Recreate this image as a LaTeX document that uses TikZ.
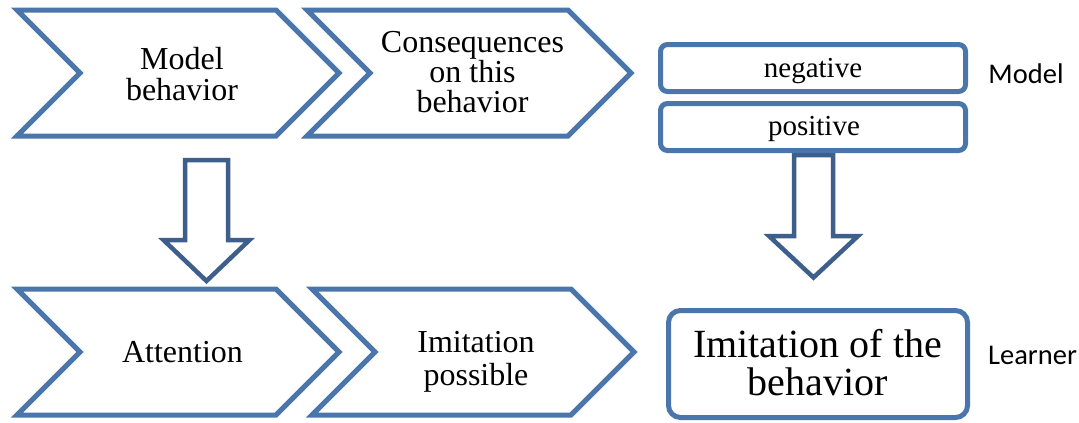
\documentclass[tikz,border=0pt]{standalone}
\usepackage{fontspec}
\setmainfont{Liberation Serif}
\newfontfamily\labelfont{Carlito}
\definecolor{chevblue}{RGB}{74,118,172}
\definecolor{arrowblue}{RGB}{62,95,140}
\begin{document}
\begin{tikzpicture}[x=1pt,y=-1pt,
  chev/.style={draw=chevblue,line width=5pt,line join=miter,fill=white},
  box/.style={draw=chevblue,line width=5pt,fill=white,inner sep=0pt},
  blockarrow/.style={draw=arrowblue,line width=4.5pt,fill=white,line join=miter},
  txt/.style={align=center,inner sep=0pt,font=\fontsize{32}{31}\selectfont},
  small/.style={inner sep=0pt,font=\fontsize{29}{29}\selectfont},
  big/.style={align=center,inner sep=0pt,font=\fontsize{40}{38}\selectfont},
  side/.style={inner sep=0pt,font=\labelfont\fontsize{28.5}{28.5}\selectfont}]
\useasboundingbox (0,0) rectangle (1079,423);

% anchor points of the two block arrows
\coordinate (a1) at (206.5,160);
\coordinate (a2) at (813.5,155);

% block arrows (drawn first, the shapes overlap their ends)
\draw[blockarrow] (a1) ++(-21.5,0) -- ++(43,0) -- ++(0,80) -- ++(21.5,0)
  -- ++(-43,41) -- ++(-43,-41) -- ++(21.5,0) -- cycle;
\draw[blockarrow] (a2) ++(-19.5,0) -- ++(39,0) -- ++(0,81) -- ++(25,0)
  -- ++(-44.5,41.5) -- ++(-44.5,-41.5) -- ++(25,0) -- cycle;

% top row of chevrons
\draw[chev] (17,10) -- (276,10) -- (339,73) -- (276,136) -- (17,136) -- (80,73) -- cycle;
\draw[chev] (307,10) -- (568,10) -- (631,73) -- (568,136) -- (307,136) -- (370,73) -- cycle;
% bottom row of chevrons
\draw[chev] (17,289) -- (276,289) -- (339,352) -- (276,415) -- (17,415) -- (80,352) -- cycle;
\draw[chev] (312,289) -- (571,289) -- (634,352) -- (571,415) -- (312,415) -- (375,352) -- cycle;

\node[txt] (model) at (182,74) {Model\\behavior};
\node[txt,font=\fontsize{32}{30}\selectfont] (cons) at (472.5,72) {Consequences\\on this\\behavior};
\node[txt] (attn) at (182.5,352) {Attention};
\node[txt,font=\fontsize{32}{33}\selectfont] (poss) at (476,362) {Imitation\\possible};

% outcome boxes
\node[box,rounded corners=7pt,minimum width=305pt,minimum height=47pt] (neg) at (813,68) {};
\node[box,rounded corners=7pt,minimum width=305pt,minimum height=47pt] (pos) at (813,127) {};
\node[small] (negtxt) at (813,71) {negative};
\node[small] (postxt) at (814,128.5) {positive};

\node[box,rounded corners=12pt,minimum width=299pt,minimum height=107pt] (imit) at (818,364) {};
\node[big] (imittxt) at (817.5,362.5) {Imitation of the\\behavior};

% row labels
\node[side] (lmodel) at (1026,74) {Model};
\node[side] (llearner) at (1032.5,355) {Learner};
\end{tikzpicture}
\end{document}
